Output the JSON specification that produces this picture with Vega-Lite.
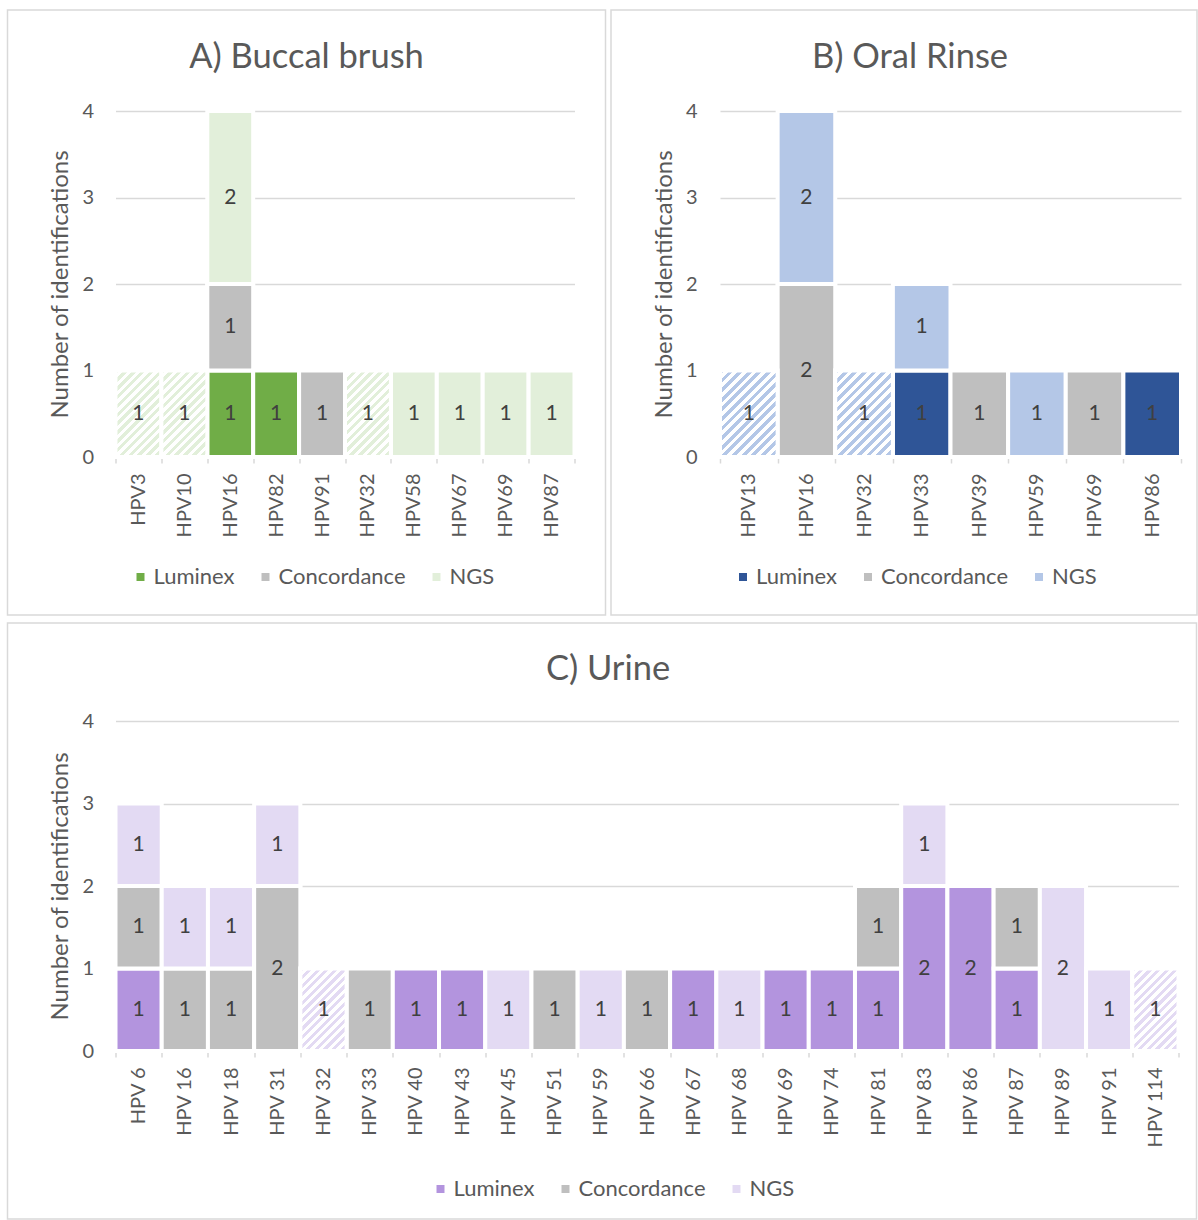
{
  "$schema": "https://vega.github.io/schema/vega-lite/v6.json",
  "background": "white",
  "padding": {"left": -3.5, "top": 9, "right": 0, "bottom": 0},
  "autosize": {"type": "pad"},
  "data": {"values": [
    {"panel": "A", "hpv": "HPV3", "method": "NGS", "n": 1, "flagged": true},
    {"panel": "A", "hpv": "HPV10", "method": "NGS", "n": 1, "flagged": true},
    {"panel": "A", "hpv": "HPV16", "method": "Luminex", "n": 1},
    {"panel": "A", "hpv": "HPV16", "method": "Concordance", "n": 1},
    {"panel": "A", "hpv": "HPV16", "method": "NGS", "n": 2},
    {"panel": "A", "hpv": "HPV82", "method": "Luminex", "n": 1},
    {"panel": "A", "hpv": "HPV91", "method": "Concordance", "n": 1},
    {"panel": "A", "hpv": "HPV32", "method": "NGS", "n": 1, "flagged": true},
    {"panel": "A", "hpv": "HPV58", "method": "NGS", "n": 1},
    {"panel": "A", "hpv": "HPV67", "method": "NGS", "n": 1},
    {"panel": "A", "hpv": "HPV69", "method": "NGS", "n": 1},
    {"panel": "A", "hpv": "HPV87", "method": "NGS", "n": 1},
    {"panel": "B", "hpv": "HPV13", "method": "NGS", "n": 1, "flagged": true},
    {"panel": "B", "hpv": "HPV16", "method": "Concordance", "n": 2},
    {"panel": "B", "hpv": "HPV16", "method": "NGS", "n": 2},
    {"panel": "B", "hpv": "HPV32", "method": "NGS", "n": 1, "flagged": true},
    {"panel": "B", "hpv": "HPV33", "method": "Luminex", "n": 1},
    {"panel": "B", "hpv": "HPV33", "method": "NGS", "n": 1},
    {"panel": "B", "hpv": "HPV39", "method": "Concordance", "n": 1},
    {"panel": "B", "hpv": "HPV59", "method": "NGS", "n": 1},
    {"panel": "B", "hpv": "HPV69", "method": "Concordance", "n": 1},
    {"panel": "B", "hpv": "HPV86", "method": "Luminex", "n": 1},
    {"panel": "C", "hpv": "HPV 6", "method": "Luminex", "n": 1},
    {"panel": "C", "hpv": "HPV 6", "method": "Concordance", "n": 1},
    {"panel": "C", "hpv": "HPV 6", "method": "NGS", "n": 1},
    {"panel": "C", "hpv": "HPV 16", "method": "Concordance", "n": 1},
    {"panel": "C", "hpv": "HPV 16", "method": "NGS", "n": 1},
    {"panel": "C", "hpv": "HPV 18", "method": "Concordance", "n": 1},
    {"panel": "C", "hpv": "HPV 18", "method": "NGS", "n": 1},
    {"panel": "C", "hpv": "HPV 31", "method": "Concordance", "n": 2},
    {"panel": "C", "hpv": "HPV 31", "method": "NGS", "n": 1},
    {"panel": "C", "hpv": "HPV 32", "method": "NGS", "n": 1, "flagged": true},
    {"panel": "C", "hpv": "HPV 33", "method": "Concordance", "n": 1},
    {"panel": "C", "hpv": "HPV 40", "method": "Luminex", "n": 1},
    {"panel": "C", "hpv": "HPV 43", "method": "Luminex", "n": 1},
    {"panel": "C", "hpv": "HPV 45", "method": "NGS", "n": 1},
    {"panel": "C", "hpv": "HPV 51", "method": "Concordance", "n": 1},
    {"panel": "C", "hpv": "HPV 59", "method": "NGS", "n": 1},
    {"panel": "C", "hpv": "HPV 66", "method": "Concordance", "n": 1},
    {"panel": "C", "hpv": "HPV 67", "method": "Luminex", "n": 1},
    {"panel": "C", "hpv": "HPV 68", "method": "NGS", "n": 1},
    {"panel": "C", "hpv": "HPV 69", "method": "Luminex", "n": 1},
    {"panel": "C", "hpv": "HPV 74", "method": "Luminex", "n": 1},
    {"panel": "C", "hpv": "HPV 81", "method": "Luminex", "n": 1},
    {"panel": "C", "hpv": "HPV 81", "method": "Concordance", "n": 1},
    {"panel": "C", "hpv": "HPV 83", "method": "Luminex", "n": 2},
    {"panel": "C", "hpv": "HPV 83", "method": "NGS", "n": 1},
    {"panel": "C", "hpv": "HPV 86", "method": "Luminex", "n": 2},
    {"panel": "C", "hpv": "HPV 87", "method": "Luminex", "n": 1},
    {"panel": "C", "hpv": "HPV 87", "method": "Concordance", "n": 1},
    {"panel": "C", "hpv": "HPV 89", "method": "NGS", "n": 2},
    {"panel": "C", "hpv": "HPV 91", "method": "NGS", "n": 1},
    {"panel": "C", "hpv": "HPV 114", "method": "NGS", "n": 1, "flagged": true}
  ]},
  "config": {
    "font": "Lato",
    "view": {"stroke": "#d9d9d9", "strokeWidth": 1.5},
    "axis": {"labelFont": "Lato", "labelColor": "#595959", "labelFontSize": 20, "titleFont": "Lato", "titleColor": "#595959", "titleFontSize": 24, "titleFontWeight": "normal", "gridColor": "#d9d9d9", "gridWidth": 1.5, "domainColor": "#d9d9d9", "domainWidth": 1.5, "tickColor": "#d9d9d9", "tickWidth": 1.5},
    "axisX": {"labelAngle": -90, "tickSize": 6, "tickBand": "extent", "labelPadding": 10, "zindex": 1, "grid": false, "domain": true, "ticks": true},
    "axisY": {"domain": false, "ticks": false, "grid": true, "labelPadding": 10, "titlePadding": 9, "format": "d"},
    "legend": {"labelFont": "Lato", "labelFontSize": 22, "labelColor": "#595959", "symbolType": "square", "symbolSize": 64, "symbolStrokeWidth": 0, "columnPadding": 19, "labelOffset": 2},
    "title": {"font": "Lato", "fontSize": 34.5, "fontWeight": "normal", "color": "#595959", "anchor": "middle"}
  },
  "spacing": 6,
  "resolve": {"scale": {"color": "independent", "x": "independent", "y": "independent"}, "legend": {"color": "independent"}},
  "vconcat": [
    {
      "spacing": -6.5,
      "resolve": {"scale": {"color": "independent", "x": "independent", "y": "independent"}, "legend": {"color": "independent"}},
      "hconcat": [
        {
          "width": 598,
          "height": 605,
          "view": {"stroke": "#d9d9d9", "strokeWidth": 1.5},
          "title": {"text": "A) Buccal brush", "offset": -92, "baseline": "alphabetic"},
          "transform": [
            {"filter": "datum.panel === 'A'"},
            {"calculate": "indexof(['Luminex','Concordance','NGS'], datum.method)", "as": "ord"},
            {"stack": "n", "groupby": ["hpv"], "sort": [{"field": "ord", "order": "ascending"}], "as": ["y0", "y1"]},
            {"calculate": "(datum.y0 + datum.y1) / 2", "as": "ymid"}
          ],
          "encoding": {
            "x": {"field": "hpv", "type": "nominal", "sort": null, "title": null,
                  "scale": {"range": [108, 567], "paddingInner": 0, "paddingOuter": 0},
                  "axis": {"offset": -158}}
          },
          "layer": [
            {"mark": {"type": "bar", "stroke": "#ffffff", "strokeWidth": 4},
             "encoding": {
               "y": {"field": "y0", "type": "quantitative", "title": "Number of identifications",
                     "scale": {"domain": [0, 4], "range": [447, 101], "nice": false},
                     "axis": {"offset": -96, "values": [0, 1, 2, 3, 4]}},
               "y2": {"field": "y1"},
               "color": {"field": "method", "type": "nominal", "sort": ["Luminex", "Concordance", "NGS"],
                         "scale": {"domain": ["Luminex", "Concordance", "NGS"], "range": ["#70AD47", "#BFBFBF", "#E2EFDA"]},
                         "legend": {"orient": "none", "legendX": 122, "legendY": 556, "direction": "horizontal", "title": null}}
             }},
            {"transform": [{"filter": "datum.flagged === true"}],
             "mark": {"type": "bar", "stroke": "#ffffff", "strokeWidth": 4,
                      "fill": {"gradient": "linear", "x1": 0, "y1": 0, "x2": 0.6338, "y2": 1.1944, "stops": [
                        {"offset": 0, "color": "#E2EFDA"}, {"offset": 0.0333, "color": "#E2EFDA"}, {"offset": 0.0333, "color": "#ffffff"}, {"offset": 0.0667, "color": "#ffffff"},
                        {"offset": 0.0667, "color": "#E2EFDA"}, {"offset": 0.1, "color": "#E2EFDA"}, {"offset": 0.1, "color": "#ffffff"}, {"offset": 0.1333, "color": "#ffffff"},
                        {"offset": 0.1333, "color": "#E2EFDA"}, {"offset": 0.1667, "color": "#E2EFDA"}, {"offset": 0.1667, "color": "#ffffff"}, {"offset": 0.2, "color": "#ffffff"},
                        {"offset": 0.2, "color": "#E2EFDA"}, {"offset": 0.2333, "color": "#E2EFDA"}, {"offset": 0.2333, "color": "#ffffff"}, {"offset": 0.2667, "color": "#ffffff"},
                        {"offset": 0.2667, "color": "#E2EFDA"}, {"offset": 0.3, "color": "#E2EFDA"}, {"offset": 0.3, "color": "#ffffff"}, {"offset": 0.3333, "color": "#ffffff"},
                        {"offset": 0.3333, "color": "#E2EFDA"}, {"offset": 0.3667, "color": "#E2EFDA"}, {"offset": 0.3667, "color": "#ffffff"}, {"offset": 0.4, "color": "#ffffff"},
                        {"offset": 0.4, "color": "#E2EFDA"}, {"offset": 0.4333, "color": "#E2EFDA"}, {"offset": 0.4333, "color": "#ffffff"}, {"offset": 0.4667, "color": "#ffffff"},
                        {"offset": 0.4667, "color": "#E2EFDA"}, {"offset": 0.5, "color": "#E2EFDA"}, {"offset": 0.5, "color": "#ffffff"}, {"offset": 0.5333, "color": "#ffffff"},
                        {"offset": 0.5333, "color": "#E2EFDA"}, {"offset": 0.5667, "color": "#E2EFDA"}, {"offset": 0.5667, "color": "#ffffff"}, {"offset": 0.6, "color": "#ffffff"},
                        {"offset": 0.6, "color": "#E2EFDA"}, {"offset": 0.6333, "color": "#E2EFDA"}, {"offset": 0.6333, "color": "#ffffff"}, {"offset": 0.6667, "color": "#ffffff"},
                        {"offset": 0.6667, "color": "#E2EFDA"}, {"offset": 0.7, "color": "#E2EFDA"}, {"offset": 0.7, "color": "#ffffff"}, {"offset": 0.7333, "color": "#ffffff"},
                        {"offset": 0.7333, "color": "#E2EFDA"}, {"offset": 0.7667, "color": "#E2EFDA"}, {"offset": 0.7667, "color": "#ffffff"}, {"offset": 0.8, "color": "#ffffff"},
                        {"offset": 0.8, "color": "#E2EFDA"}, {"offset": 0.8333, "color": "#E2EFDA"}, {"offset": 0.8333, "color": "#ffffff"}, {"offset": 0.8667, "color": "#ffffff"},
                        {"offset": 0.8667, "color": "#E2EFDA"}, {"offset": 0.9, "color": "#E2EFDA"}, {"offset": 0.9, "color": "#ffffff"}, {"offset": 0.9333, "color": "#ffffff"},
                        {"offset": 0.9333, "color": "#E2EFDA"}, {"offset": 0.9667, "color": "#E2EFDA"}, {"offset": 0.9667, "color": "#ffffff"}, {"offset": 1, "color": "#ffffff"}
                      ]}},
             "encoding": {"y": {"field": "y0", "type": "quantitative", "title": "Number of identifications"}, "y2": {"field": "y1"}}},
            {"mark": {"type": "text", "fontSize": 21, "color": "#404040", "font": "Lato"},
             "encoding": {"y": {"field": "ymid", "type": "quantitative", "title": "Number of identifications"}, "text": {"field": "n", "type": "quantitative"}}}
          ]
        },
        {
          "width": 586,
          "height": 605,
          "view": {"stroke": "#d9d9d9", "strokeWidth": 1.5},
          "title": {"text": "B) Oral Rinse", "offset": -92, "baseline": "alphabetic", "dx": 6},
          "transform": [
            {"filter": "datum.panel === 'B'"},
            {"calculate": "indexof(['Luminex','Concordance','NGS'], datum.method)", "as": "ord"},
            {"stack": "n", "groupby": ["hpv"], "sort": [{"field": "ord", "order": "ascending"}], "as": ["y0", "y1"]},
            {"calculate": "(datum.y0 + datum.y1) / 2", "as": "ymid"}
          ],
          "encoding": {
            "x": {"field": "hpv", "type": "nominal", "sort": null, "title": null,
                  "scale": {"range": [109, 570], "paddingInner": 0, "paddingOuter": 0},
                  "axis": {"offset": -158}}
          },
          "layer": [
            {"mark": {"type": "bar", "stroke": "#ffffff", "strokeWidth": 4},
             "encoding": {
               "y": {"field": "y0", "type": "quantitative", "title": "Number of identifications",
                     "scale": {"domain": [0, 4], "range": [447, 101], "nice": false},
                     "axis": {"offset": -96, "values": [0, 1, 2, 3, 4]}},
               "y2": {"field": "y1"},
               "color": {"field": "method", "type": "nominal", "sort": ["Luminex", "Concordance", "NGS"],
                         "scale": {"domain": ["Luminex", "Concordance", "NGS"], "range": ["#2F5597", "#BFBFBF", "#B4C7E7"]},
                         "legend": {"orient": "none", "legendX": 121, "legendY": 556, "direction": "horizontal", "title": null}}
             }},
            {"transform": [{"filter": "datum.flagged === true"}],
             "mark": {"type": "bar", "stroke": "#ffffff", "strokeWidth": 4,
                      "fill": {"gradient": "linear", "x1": 0, "y1": 0, "x2": 0.7686, "y2": 1.1542, "stops": [
                        {"offset": 0, "color": "#B4C7E7"}, {"offset": 0.0333, "color": "#B4C7E7"}, {"offset": 0.0333, "color": "#ffffff"}, {"offset": 0.0667, "color": "#ffffff"},
                        {"offset": 0.0667, "color": "#B4C7E7"}, {"offset": 0.1, "color": "#B4C7E7"}, {"offset": 0.1, "color": "#ffffff"}, {"offset": 0.1333, "color": "#ffffff"},
                        {"offset": 0.1333, "color": "#B4C7E7"}, {"offset": 0.1667, "color": "#B4C7E7"}, {"offset": 0.1667, "color": "#ffffff"}, {"offset": 0.2, "color": "#ffffff"},
                        {"offset": 0.2, "color": "#B4C7E7"}, {"offset": 0.2333, "color": "#B4C7E7"}, {"offset": 0.2333, "color": "#ffffff"}, {"offset": 0.2667, "color": "#ffffff"},
                        {"offset": 0.2667, "color": "#B4C7E7"}, {"offset": 0.3, "color": "#B4C7E7"}, {"offset": 0.3, "color": "#ffffff"}, {"offset": 0.3333, "color": "#ffffff"},
                        {"offset": 0.3333, "color": "#B4C7E7"}, {"offset": 0.3667, "color": "#B4C7E7"}, {"offset": 0.3667, "color": "#ffffff"}, {"offset": 0.4, "color": "#ffffff"},
                        {"offset": 0.4, "color": "#B4C7E7"}, {"offset": 0.4333, "color": "#B4C7E7"}, {"offset": 0.4333, "color": "#ffffff"}, {"offset": 0.4667, "color": "#ffffff"},
                        {"offset": 0.4667, "color": "#B4C7E7"}, {"offset": 0.5, "color": "#B4C7E7"}, {"offset": 0.5, "color": "#ffffff"}, {"offset": 0.5333, "color": "#ffffff"},
                        {"offset": 0.5333, "color": "#B4C7E7"}, {"offset": 0.5667, "color": "#B4C7E7"}, {"offset": 0.5667, "color": "#ffffff"}, {"offset": 0.6, "color": "#ffffff"},
                        {"offset": 0.6, "color": "#B4C7E7"}, {"offset": 0.6333, "color": "#B4C7E7"}, {"offset": 0.6333, "color": "#ffffff"}, {"offset": 0.6667, "color": "#ffffff"},
                        {"offset": 0.6667, "color": "#B4C7E7"}, {"offset": 0.7, "color": "#B4C7E7"}, {"offset": 0.7, "color": "#ffffff"}, {"offset": 0.7333, "color": "#ffffff"},
                        {"offset": 0.7333, "color": "#B4C7E7"}, {"offset": 0.7667, "color": "#B4C7E7"}, {"offset": 0.7667, "color": "#ffffff"}, {"offset": 0.8, "color": "#ffffff"},
                        {"offset": 0.8, "color": "#B4C7E7"}, {"offset": 0.8333, "color": "#B4C7E7"}, {"offset": 0.8333, "color": "#ffffff"}, {"offset": 0.8667, "color": "#ffffff"},
                        {"offset": 0.8667, "color": "#B4C7E7"}, {"offset": 0.9, "color": "#B4C7E7"}, {"offset": 0.9, "color": "#ffffff"}, {"offset": 0.9333, "color": "#ffffff"},
                        {"offset": 0.9333, "color": "#B4C7E7"}, {"offset": 0.9667, "color": "#B4C7E7"}, {"offset": 0.9667, "color": "#ffffff"}, {"offset": 1, "color": "#ffffff"}
                      ]}},
             "encoding": {"y": {"field": "y0", "type": "quantitative", "title": "Number of identifications"}, "y2": {"field": "y1"}}},
            {"mark": {"type": "text", "fontSize": 21, "color": "#404040", "font": "Lato"},
             "encoding": {"y": {"field": "ymid", "type": "quantitative", "title": "Number of identifications"}, "text": {"field": "n", "type": "quantitative"}}}
          ]
        }
      ]
    },
    {
      "width": 1189,
      "height": 596,
      "view": {"stroke": "#d9d9d9", "strokeWidth": 1.5},
      "title": {"text": "C) Urine", "offset": -91, "baseline": "alphabetic", "dx": 6},
      "transform": [
        {"filter": "datum.panel === 'C'"},
        {"calculate": "indexof(['Luminex','Concordance','NGS'], datum.method)", "as": "ord"},
        {"stack": "n", "groupby": ["hpv"], "sort": [{"field": "ord", "order": "ascending"}], "as": ["y0", "y1"]},
        {"calculate": "(datum.y0 + datum.y1) / 2", "as": "ymid"}
      ],
      "encoding": {
        "x": {"field": "hpv", "type": "nominal", "sort": null, "title": null,
              "scale": {"range": [108, 1171], "paddingInner": 0, "paddingOuter": 0},
              "axis": {"offset": -168}}
      },
      "layer": [
        {"mark": {"type": "bar", "stroke": "#ffffff", "strokeWidth": 4},
         "encoding": {
           "y": {"field": "y0", "type": "quantitative", "title": "Number of identifications",
                 "scale": {"domain": [0, 4], "range": [428, 98], "nice": false},
                 "axis": {"offset": -96, "values": [0, 1, 2, 3, 4]}},
           "y2": {"field": "y1"},
           "color": {"field": "method", "type": "nominal", "sort": ["Luminex", "Concordance", "NGS"],
                     "scale": {"domain": ["Luminex", "Concordance", "NGS"], "range": ["#B394DE", "#BFBFBF", "#E3DAF3"]},
                     "legend": {"orient": "none", "legendX": 422, "legendY": 555, "direction": "horizontal", "title": null}}
         }},
        {"transform": [{"filter": "datum.flagged === true"}],
         "mark": {"type": "bar", "stroke": "#ffffff", "strokeWidth": 4,
                  "fill": {"gradient": "linear", "x1": 0, "y1": 0, "x2": 0.6651, "y2": 1.1876, "stops": [
                    {"offset": 0, "color": "#E3DAF3"}, {"offset": 0.0333, "color": "#E3DAF3"}, {"offset": 0.0333, "color": "#ffffff"}, {"offset": 0.0667, "color": "#ffffff"},
                    {"offset": 0.0667, "color": "#E3DAF3"}, {"offset": 0.1, "color": "#E3DAF3"}, {"offset": 0.1, "color": "#ffffff"}, {"offset": 0.1333, "color": "#ffffff"},
                    {"offset": 0.1333, "color": "#E3DAF3"}, {"offset": 0.1667, "color": "#E3DAF3"}, {"offset": 0.1667, "color": "#ffffff"}, {"offset": 0.2, "color": "#ffffff"},
                    {"offset": 0.2, "color": "#E3DAF3"}, {"offset": 0.2333, "color": "#E3DAF3"}, {"offset": 0.2333, "color": "#ffffff"}, {"offset": 0.2667, "color": "#ffffff"},
                    {"offset": 0.2667, "color": "#E3DAF3"}, {"offset": 0.3, "color": "#E3DAF3"}, {"offset": 0.3, "color": "#ffffff"}, {"offset": 0.3333, "color": "#ffffff"},
                    {"offset": 0.3333, "color": "#E3DAF3"}, {"offset": 0.3667, "color": "#E3DAF3"}, {"offset": 0.3667, "color": "#ffffff"}, {"offset": 0.4, "color": "#ffffff"},
                    {"offset": 0.4, "color": "#E3DAF3"}, {"offset": 0.4333, "color": "#E3DAF3"}, {"offset": 0.4333, "color": "#ffffff"}, {"offset": 0.4667, "color": "#ffffff"},
                    {"offset": 0.4667, "color": "#E3DAF3"}, {"offset": 0.5, "color": "#E3DAF3"}, {"offset": 0.5, "color": "#ffffff"}, {"offset": 0.5333, "color": "#ffffff"},
                    {"offset": 0.5333, "color": "#E3DAF3"}, {"offset": 0.5667, "color": "#E3DAF3"}, {"offset": 0.5667, "color": "#ffffff"}, {"offset": 0.6, "color": "#ffffff"},
                    {"offset": 0.6, "color": "#E3DAF3"}, {"offset": 0.6333, "color": "#E3DAF3"}, {"offset": 0.6333, "color": "#ffffff"}, {"offset": 0.6667, "color": "#ffffff"},
                    {"offset": 0.6667, "color": "#E3DAF3"}, {"offset": 0.7, "color": "#E3DAF3"}, {"offset": 0.7, "color": "#ffffff"}, {"offset": 0.7333, "color": "#ffffff"},
                    {"offset": 0.7333, "color": "#E3DAF3"}, {"offset": 0.7667, "color": "#E3DAF3"}, {"offset": 0.7667, "color": "#ffffff"}, {"offset": 0.8, "color": "#ffffff"},
                    {"offset": 0.8, "color": "#E3DAF3"}, {"offset": 0.8333, "color": "#E3DAF3"}, {"offset": 0.8333, "color": "#ffffff"}, {"offset": 0.8667, "color": "#ffffff"},
                    {"offset": 0.8667, "color": "#E3DAF3"}, {"offset": 0.9, "color": "#E3DAF3"}, {"offset": 0.9, "color": "#ffffff"}, {"offset": 0.9333, "color": "#ffffff"},
                    {"offset": 0.9333, "color": "#E3DAF3"}, {"offset": 0.9667, "color": "#E3DAF3"}, {"offset": 0.9667, "color": "#ffffff"}, {"offset": 1, "color": "#ffffff"}
                  ]}},
         "encoding": {"y": {"field": "y0", "type": "quantitative", "title": "Number of identifications"}, "y2": {"field": "y1"}}},
        {"mark": {"type": "text", "fontSize": 21, "color": "#404040", "font": "Lato"},
         "encoding": {"y": {"field": "ymid", "type": "quantitative", "title": "Number of identifications"}, "text": {"field": "n", "type": "quantitative"}}}
      ]
    }
  ]
}
